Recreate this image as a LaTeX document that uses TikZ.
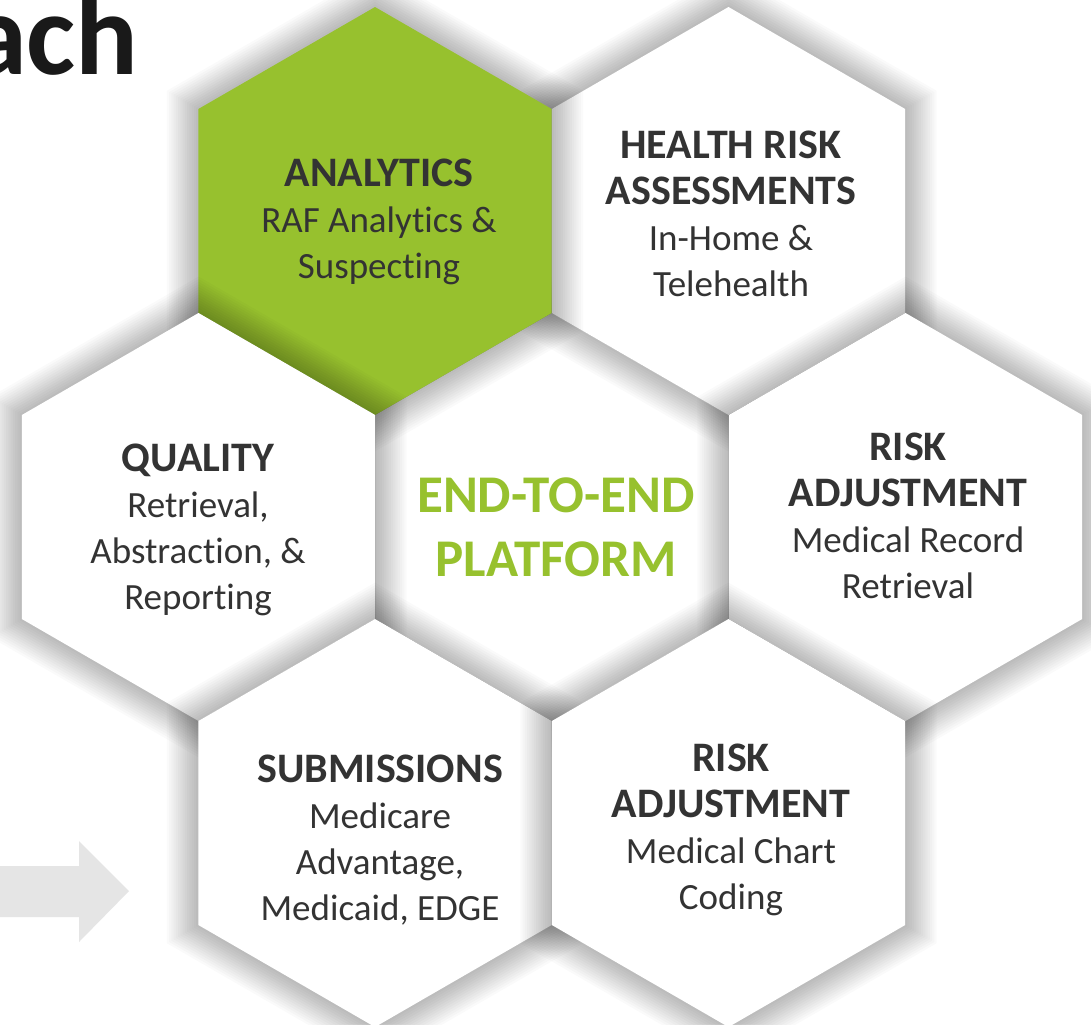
\documentclass[tikz,border=0pt]{standalone}
\usepackage{fontspec}
\setmainfont[Ligatures=NoCommon]{Carlito}
\usepackage{tikz}
\usetikzlibrary{positioning}

\definecolor{hexgreen}{RGB}{151,193,46}
\definecolor{hexink}{RGB}{51,51,51}
\definecolor{arrowgray}{RGB}{229,229,229}

% one cell of the honeycomb: soft grey halo, then the filled hexagon (vertex up)
\newcommand{\hexcell}[2]{%
	\foreach \k in {1,...,14}{%
		\pgfmathsetmacro{\hr}{204+2.6*\k}
		\fill[black, opacity=0.019, shift={(#1)}]
		(90:\hr) -- (150:\hr) -- (210:\hr) -- (270:\hr) -- (330:\hr) -- (30:\hr) -- cycle;
	}
	\fill[#2, shift={(#1)}]
	(90:204) -- (150:204) -- (210:204) -- (270:204) -- (330:204) -- (30:204) -- cycle;
}
\newcommand{\celltitle}[1]{{\fontsize{21}{23}\selectfont\bfseries #1}}

\begin{document}
\begin{tikzpicture}[
	x=0.5pt, y=-0.5pt,
	celltext/.style={
		align=center,
		text=hexink,
		inner sep=0pt,
		font=\fontsize{18.5}{23}\selectfont
	},
	platform/.style={
		align=center,
		text=hexgreen,
		inner sep=0pt,
		font=\fontsize{26.5}{32}\selectfont\bfseries
	}
	]
	
	\useasboundingbox (0,0) rectangle (1091,1024);
	\clip (0,0) rectangle (1091,1024);
	\fill[white] (0,0) rectangle (1091,1024);
	
	% centres of the cells
	\coordinate (c-mid) at (552,517);
	\coordinate (c-hra) at (728.5,211);
	\coordinate (c-ana) at (375,211);
	\coordinate (c-qua) at (198.5,517);
	\coordinate (c-rar) at (905.5,517);
	\coordinate (c-sub) at (375,823);
	\coordinate (c-rac) at (728.5,823);
	
	% heading and grey arrow on the left
	\node[anchor=base east, inner sep=0pt, text=black!90,
	font=\fontsize{58.5}{60}\selectfont\bfseries] (heading) at (139,74) {ach};
	\fill[arrowgray] (-5,866) -- (79,866) -- (79,841) -- (129,891)
	-- (79,942) -- (79,917) -- (-5,917) -- cycle;
	
	% honeycomb, back to front
	\hexcell{c-mid}{white}
	\hexcell{c-hra}{white}
	\hexcell{c-ana}{hexgreen}
	\hexcell{c-qua}{white}
	\hexcell{c-rar}{white}
	\hexcell{c-sub}{white}
	\hexcell{c-rac}{white}
	
	% texts
	\node[platform] (mid) at (556,527) {END-TO-END\\PLATFORM};
	\node[celltext] (ana) at (379,222) {\celltitle{ANALYTICS}\\RAF Analytics \&\\Suspecting};
	\node[celltext] (hra) at (731,214) {\celltitle{HEALTH RISK}\\\celltitle{ASSESSMENTS}\\In-Home \&\\Telehealth};
	\node[celltext] (qua) at (198,530) {\celltitle{QUALITY}\\Retrieval,\\Abstraction, \&\\Reporting};
	\node[celltext] (rar) at (908,516) {\celltitle{RISK}\\\celltitle{ADJUSTMENT}\\Medical Record\\Retrieval};
	\node[celltext] (sub) at (380,840) {\celltitle{SUBMISSIONS}\\Medicare\\Advantage,\\Medicaid, EDGE};
	\node[celltext] (rac) at (731,830) {\celltitle{RISK}\\\celltitle{ADJUSTMENT}\\Medical Chart\\Coding};
	
\end{tikzpicture}
\end{document}
